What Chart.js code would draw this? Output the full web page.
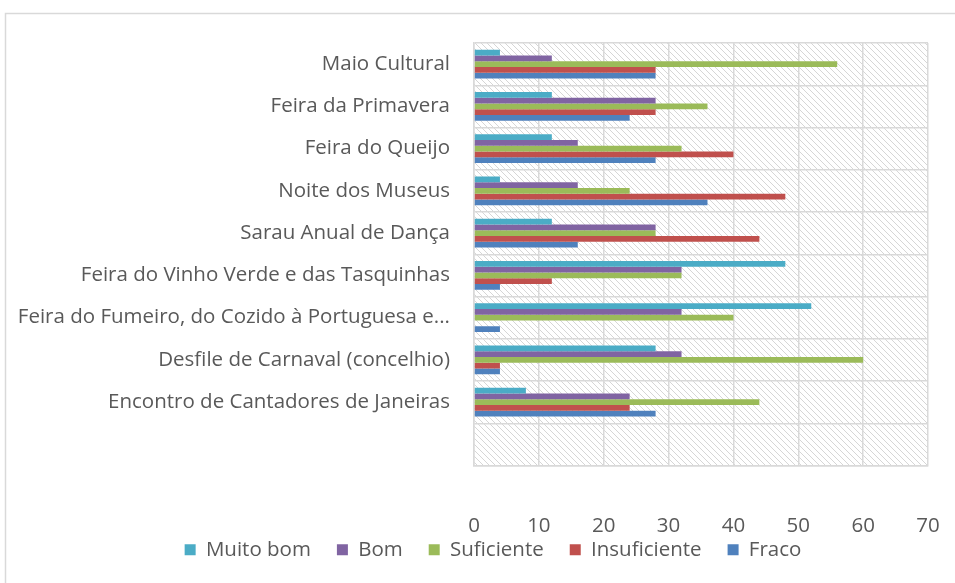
<!DOCTYPE html>
<html>
<head>
<meta charset="utf-8">
<script src="https://cdn.jsdelivr.net/npm/chart.js@4.4.1/dist/chart.umd.min.js"></script>
<style>
  html, body { margin: 0; padding: 0; background: #fff; }
  #wrap { width: 955px; height: 583px; }
</style>
</head>
<body>
<div id="wrap"><canvas id="chart" width="955" height="583"></canvas></div>
<script>
// categories top to bottom (last one is the empty row in the original)
const categories = [
  'Maio Cultural',
  'Feira da Primavera',
  'Feira do Queijo',
  'Noite dos Museus',
  'Sarau Anual de Dança',
  'Feira do Vinho Verde e das Tasquinhas',
  'Feira do Fumeiro, do Cozido à Portuguesa e...',
  'Desfile de Carnaval (concelhio)',
  'Encontro de Cantadores de Janeiras',
  ''
];

const muitoBom     = [4, 12, 12, 4, 12, 48, 52, 28, 8, null];
const bom          = [12, 28, 16, 16, 28, 32, 32, 32, 24, null];
const suficiente   = [56, 36, 32, 24, 28, 32, 40, 60, 44, null];
const insuficiente = [28, 28, 40, 48, 44, 12, null, 4, 24, null];
const fraco        = [28, 24, 28, 36, 16, 4, 4, 4, 28, null];

const xTicks = [0, 10, 20, 30, 40, 50, 60, 70];

const FONT = "'Open Sans', sans-serif";
const TEXT = '#595959';
const GRID = '#d9d9d9';

// diagonal hatch for the plot area
function makeHatch() {
  const c = document.createElement('canvas');
  c.width = 6; c.height = 6;
  const g = c.getContext('2d');
  g.strokeStyle = '#d6d6d6';
  g.lineWidth = 1;
  g.beginPath();
  g.moveTo(0, 0); g.lineTo(6, 6);
  g.moveTo(-3, 3); g.lineTo(3, 9);
  g.moveTo(3, -3); g.lineTo(9, 3);
  g.stroke();
  return c;
}

const backdrop = {
  id: 'backdrop',
  beforeDraw(chart) {
    const { ctx, chartArea } = chart;
    ctx.save();
    // outer chart frame (left + top, the rest runs off the picture)
    ctx.strokeStyle = GRID;
    ctx.lineWidth = 1.5;
    ctx.beginPath();
    ctx.moveTo(5.5, 583);
    ctx.lineTo(5.5, 13.5);
    ctx.lineTo(955, 13.5);
    ctx.stroke();
    ctx.fillStyle = ctx.createPattern(makeHatch(), 'repeat');
    ctx.fillRect(chartArea.left, chartArea.top, chartArea.right - chartArea.left, chartArea.bottom - chartArea.top);
    ctx.restore();
  }
};

function series(label, data, color) {
  return {
    label: label,
    data: data,
    backgroundColor: color,
    borderWidth: 0,
    categoryPercentage: 0.68,
    barPercentage: 1.0
  };
}

new Chart(document.getElementById('chart'), {
  type: 'bar',
  data: {
    labels: categories,
    datasets: [
      series('Muito bom', muitoBom, '#4bacc6'),
      series('Bom', bom, '#8064a2'),
      series('Suficiente', suficiente, '#9bbb59'),
      series('Insuficiente', insuficiente, '#c0504d'),
      series('Fraco', fraco, '#4f81bd')
    ]
  },
  options: {
    indexAxis: 'y',
    responsive: false,
    animation: false,
    // left padding is large so the legend centres where the original does
    layout: { padding: { left: 58, top: 43, right: 27, bottom: 13 } },
    scales: {
      x: {
        min: 0,
        max: 70,
        afterBuildTicks: (scale) => { scale.ticks = xTicks.map(v => ({ value: v })); },
        afterFit: (scale) => {
          scale.height = 48;
          // tick padding would otherwise be added to the side paddings
          scale.paddingLeft = 0;
          scale.paddingRight = 0;
          // labels sit lower than the axis box (they overlap the legend band), so don't clip them
          scale._computeLabelArea = () => undefined;
        },
        grid: { color: GRID, lineWidth: 1.5, drawTicks: false },
        border: { color: GRID, width: 1.5 },
        ticks: { color: TEXT, padding: 48, font: { family: FONT, size: 20.5 } }
      },
      y: {
        afterFit: (scale) => {
          scale.width = 416;
          // long labels run left of the axis box
          scale._computeLabelArea = () => undefined;
        },
        grid: { color: GRID, lineWidth: 1.5, drawTicks: false, offset: true },
        border: { color: GRID, width: 1.5 },
        ticks: { color: TEXT, padding: 24, font: { family: FONT, size: 20.5 }, autoSkip: false }
      }
    },
    plugins: {
      legend: {
        position: 'bottom',
        labels: {
          color: TEXT,
          boxWidth: 11,
          boxHeight: 11,
          padding: 26,
          font: { family: FONT, size: 20.5 }
        }
      },
      tooltip: { enabled: false }
    }
  },
  plugins: [backdrop]
});
</script>
</body>
</html>
